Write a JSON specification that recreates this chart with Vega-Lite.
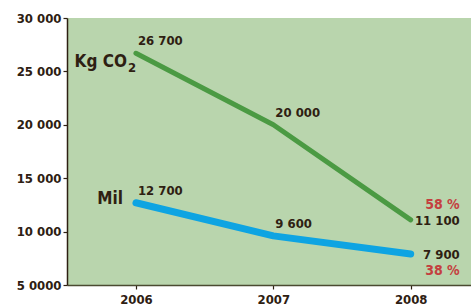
{
  "$schema": "https://vega.github.io/schema/vega-lite/v6.json",
  "width": 404,
  "height": 267,
  "autosize": {"type": "none"},
  "padding": {"left": 67, "top": 18, "right": 0, "bottom": 19},
  "background": "#ffffff",
  "config": {
    "view": {"fill": "#b9d5ad", "stroke": null},
    "text": {"font": "DejaVu Sans Condensed, Roboto, sans-serif", "fontWeight": "bold", "fontSize": 13, "color": "#2e2012"},
    "axis": {"labelFont": "DejaVu Sans Condensed, Roboto, sans-serif", "labelFontWeight": "bold", "labelFontSize": 13, "labelColor": "#2e2012", "domainColor": "#2e2012", "tickColor": "#2e2012", "grid": false, "title": null, "domainWidth": 1.5, "tickWidth": 1.2}
  },
  "datasets": {
    "pts": [
      {"series": "Kg CO2", "year": 2006, "value": 26700, "label": "26 700"},
      {"series": "Kg CO2", "year": 2007, "value": 20000, "label": "20 000"},
      {"series": "Kg CO2", "year": 2008, "value": 11100, "label": "11 100"},
      {"series": "Mil", "year": 2006, "value": 12700, "label": "12 700"},
      {"series": "Mil", "year": 2007, "value": 9600, "label": "9 600"},
      {"series": "Mil", "year": 2008, "value": 7900, "label": "7 900"}
    ],
    "pct": [
      {"series": "Kg CO2", "year": 2008, "value": 11100, "pct": "58 %"},
      {"series": "Mil", "year": 2008, "value": 7900, "pct": "38 %"}
    ],
    "names": [
      {"series": "Kg CO2", "year": 2006, "value": 26700, "name": "Kg CO", "sub": "2"},
      {"series": "Mil", "year": 2006, "value": 12700, "name": "Mil", "sub": ""}
    ]
  },
  "encoding": {
    "x": {"field": "year", "type": "quantitative",
      "scale": {"domain": [2005.498, 2008.439], "nice": false, "zero": false},
      "axis": {"values": [2006, 2007, 2008], "format": "d", "tickSize": 4, "labelPadding": 4, "domainColor": "#4a4a30"}},
    "y": {"field": "value", "type": "quantitative",
      "scale": {"domain": [5000, 30000], "nice": false, "zero": false},
      "axis": {"values": [5000, 10000, 15000, 20000, 25000, 30000], "tickSize": 4, "labelPadding": 2,
        "labelExpr": "datum.value == 5000 ? '5 0000' : replace(format(datum.value, ','), ',', ' ')"}}
  },
  "layer": [
    {
      "data": {"name": "pts"},
      "mark": {"type": "line", "strokeCap": "round", "strokeJoin": "round"},
      "encoding": {
        "color": {"field": "series", "type": "nominal", "scale": {"domain": ["Kg CO2", "Mil"], "range": ["#4b9a43", "#0ea4e2"]}, "legend": null},
        "size": {"field": "series", "type": "nominal", "scale": {"domain": ["Kg CO2", "Mil"], "range": [5, 7]}, "legend": null}
      }
    },
    {
      "data": {"name": "pts"},
      "transform": [{"filter": "datum.year < 2008"}],
      "mark": {"type": "text", "align": "left", "baseline": "alphabetic", "dx": 2, "dy": -8},
      "encoding": {"text": {"field": "label"}}
    },
    {
      "data": {"name": "pts"},
      "transform": [{"filter": "datum.year == 2008"}],
      "mark": {"type": "text", "align": "right", "baseline": "alphabetic", "dx": 49, "dy": 5},
      "encoding": {"text": {"field": "label"}}
    },
    {
      "data": {"name": "pct"},
      "transform": [{"filter": "datum.series == 'Kg CO2'"}],
      "mark": {"type": "text", "align": "right", "baseline": "alphabetic", "dx": 49, "dy": -11, "color": "#c4403f", "fontSize": 14},
      "encoding": {"text": {"field": "pct"}}
    },
    {
      "data": {"name": "pct"},
      "transform": [{"filter": "datum.series == 'Mil'"}],
      "mark": {"type": "text", "align": "right", "baseline": "alphabetic", "dx": 49, "dy": 21, "color": "#c4403f", "fontSize": 14},
      "encoding": {"text": {"field": "pct"}}
    },
    {
      "data": {"name": "names"},
      "transform": [{"filter": "datum.series == 'Kg CO2'"}],
      "mark": {"type": "text", "align": "right", "baseline": "alphabetic", "dx": -9, "dy": 14, "fontSize": 17},
      "encoding": {"text": {"field": "name"}}
    },
    {
      "data": {"name": "names"},
      "transform": [{"filter": "datum.series == 'Kg CO2'"}],
      "mark": {"type": "text", "align": "left", "baseline": "alphabetic", "dx": -8, "dy": 19, "fontSize": 13},
      "encoding": {"text": {"field": "sub"}}
    },
    {
      "data": {"name": "names"},
      "transform": [{"filter": "datum.series == 'Mil'"}],
      "mark": {"type": "text", "align": "right", "baseline": "alphabetic", "dx": -13, "dy": 1, "fontSize": 17},
      "encoding": {"text": {"field": "name"}}
    }
  ]
}
